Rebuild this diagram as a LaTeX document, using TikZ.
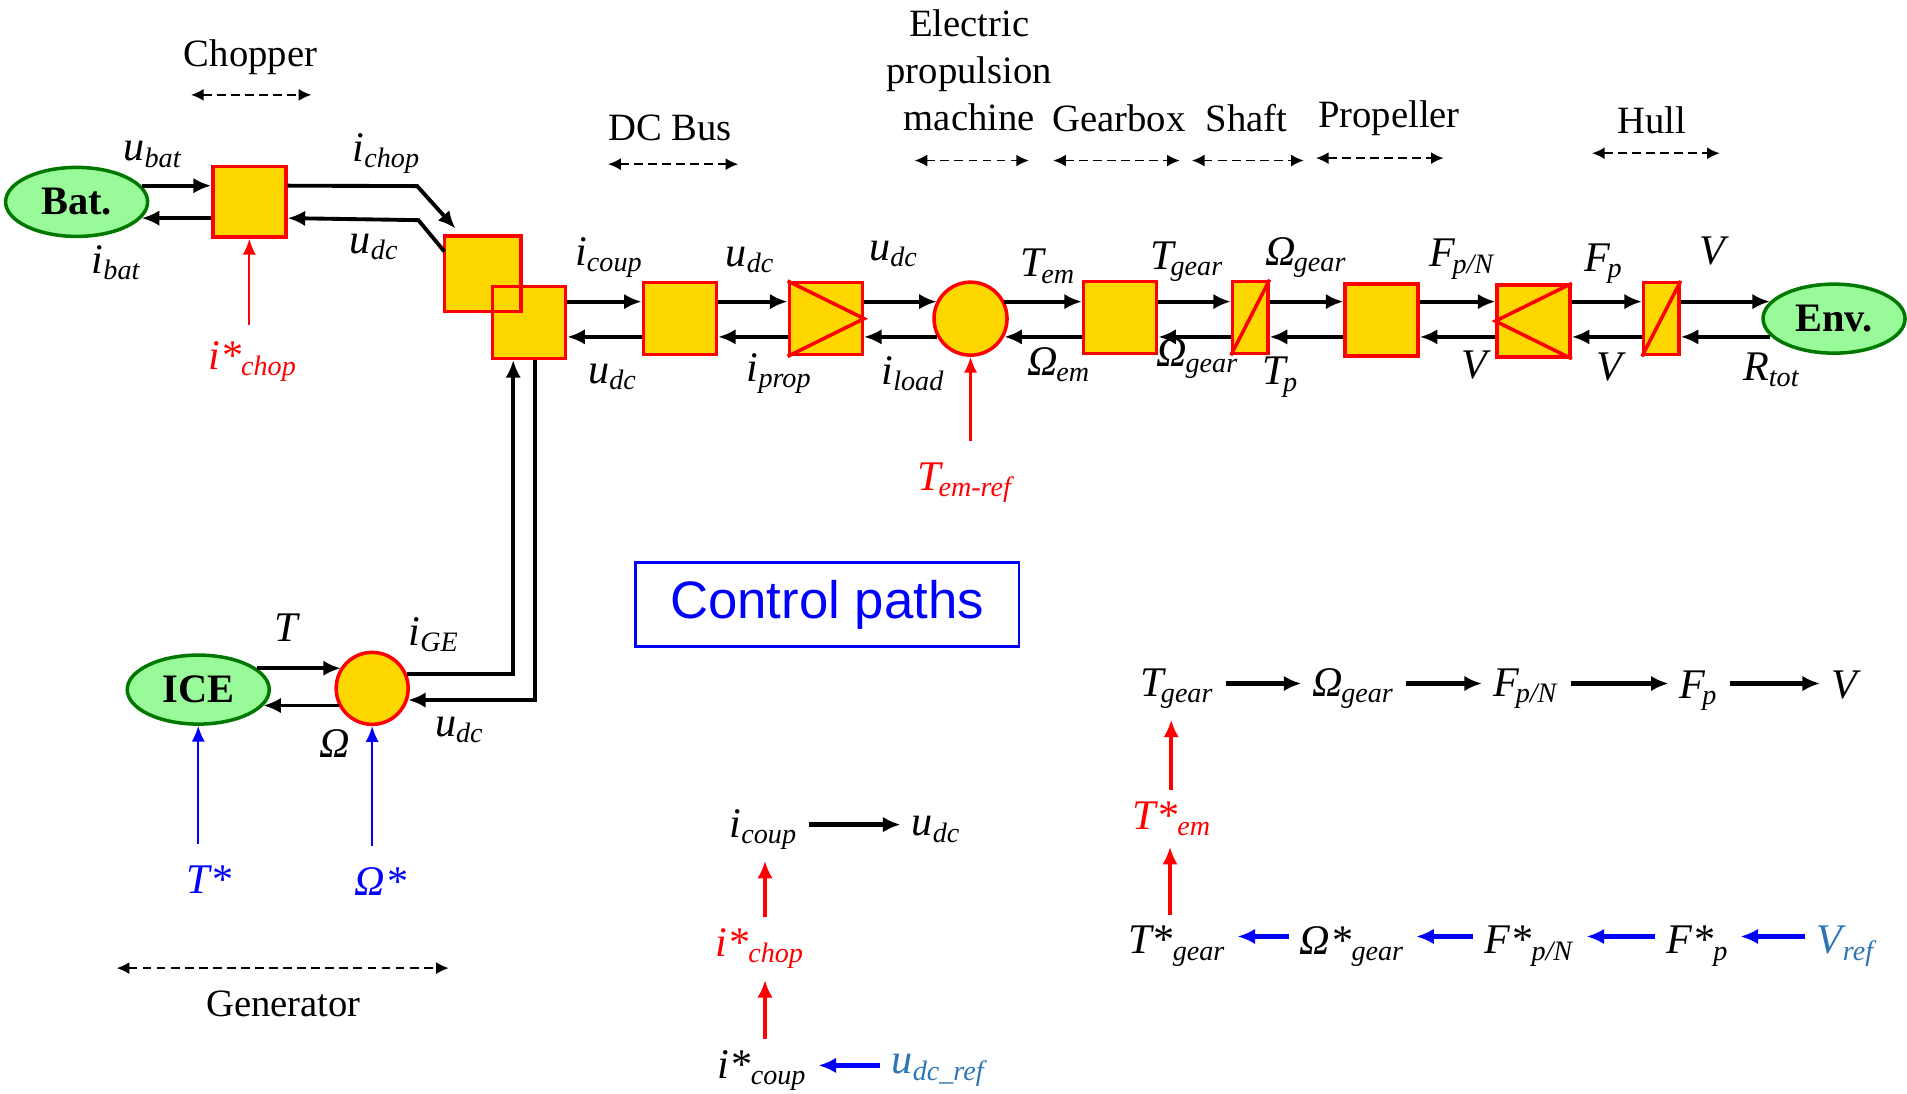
\documentclass[tikz,border=0pt]{standalone}
\usepackage{fontspec}
\setmainfont{Liberation Serif}
\newfontfamily\arialfont{Liberation Sans}
\usetikzlibrary{arrows.meta,shapes.geometric,calc}

\definecolor{boxfill}{RGB}{255,215,0}
\definecolor{ellfill}{RGB}{153,250,153}
\definecolor{elldraw}{RGB}{0,120,0}
\definecolor{refblue}{RGB}{0,0,255}
\definecolor{steel}{RGB}{46,117,182}

% italic symbol with italic subscript, optional kern before the subscript
\newcommand{\sv}[3][0pt]{\textit{#2}\kern#1\textsubscript{\textit{#3}}}

\tikzset{
  blk/.style={draw=red, fill=boxfill, line width=1pt, minimum width=0.73cm, minimum height=0.72cm, inner sep=0pt},
  slim/.style={blk, minimum width=0.353cm},
  rnd/.style={circle, draw=red, fill=boxfill, line width=1pt, minimum size=0.73cm, inner sep=0pt},
  src/.style={ellipse, draw=elldraw, fill=ellfill, line width=1pt, minimum width=1.42cm, minimum height=0.69cm, inner sep=0pt, font=\fontsize{11.5}{12}\selectfont\bfseries},
  sig/.style={-{Latex[length=5pt,width=4.4pt]}, line width=1.1pt},
  span/.style={{Latex[length=3.6pt,width=3.4pt]}-{Latex[length=3.6pt,width=3.4pt]}, dash pattern=on 2.5pt off 1.5pt, line width=0.5pt},
  lab/.style={font=\fontsize{12}{14}\selectfont, inner sep=1pt},
  hd/.style={font=\fontsize{11}{13.4}\selectfont, inner sep=1pt},
  refr/.style={-{Latex[length=4.5pt,width=3.8pt]}, red, line width=0.6pt},
  refb/.style={-{Latex[length=4.5pt,width=3.8pt]}, refblue, line width=0.6pt},
  cpath/.style={-{Latex[length=5pt,width=4.4pt]}, line width=1.2pt, shorten <=2pt, shorten >=2pt},
}

\begin{document}
\begin{tikzpicture}[x=0.012162cm, y=-0.012162cm]
\useasboundingbox (0,0) rectangle (1568,899);

% lanes of the power chain
\coordinate (up) at (0,248);
\coordinate (dn) at (0,277);

% sources
\node[src] (bat) at (63,166) {Bat.};
\node[src] (env) at (1508,262) {Env.};
\node[src] (ice) at (163,567) {ICE};

% conversion elements
\node[blk, minimum height=0.705cm] (chop) at (205,166) {};
\node[blk, draw=none] (cpl1) at (397,225) {};
\node[blk] (cpl2) at (435,265) {};
\draw[red, line width=1pt] (cpl1.south west) rectangle (cpl1.north east);
\node[blk] (bus) at (559,262) {};
\node[blk] (conv) at (679,262) {};
\draw[red, line width=1pt] (conv.north west) -- (conv.east) -- (conv.south west);
\node[rnd] (em) at (798,262) {};
\node[blk] (gear) at (921,261) {};
\node[slim] (shaft) at (1028,261) {};
\draw[red, line width=1pt] (shaft.south west) -- (shaft.north east);
\node[blk] (prop) at (1136,263) {};
\node[blk] (propn) at (1261,264) {};
\draw[red, line width=1pt] (propn.north east) -- (propn.west) -- (propn.south east);
\node[slim] (hull) at (1366,262) {};
\draw[red, line width=1pt] (hull.south west) -- (hull.north east);
\node[rnd, minimum size=0.72cm] (gen) at (306,566) {};

% battery and chopper
\draw[sig] (bat.14) -- (bat.14 -| chop.west);
\draw[sig] (chop.west |- bat.-14) -- (bat.-14);
\draw[sig] (chop.east |- bat.14) -- (343,153) -- ($(cpl1.north west)+(9,-6)$);
\draw[sig] ($(cpl1.north west)+(0,13)$) -- (344,181) -- (chop.east |- bat.-14);

% power chain
\foreach \a/\b in {cpl2/bus, bus/conv, gear/shaft, shaft/prop, prop/propn, propn/hull} {
  \draw[sig] (\a.east |- up) -- (\b.west |- up);
  \draw[sig] (\b.west |- dn) -- (\a.east |- dn);
}
\draw[sig] (conv.east |- up) -- (up -| em.152);
\draw[sig] (dn -| em.208) -- (conv.east |- dn);
\draw[sig] (up -| em.28) -- (gear.west |- up);
\draw[sig] (gear.west |- dn) -- (dn -| em.-28);
\draw[sig] (hull.east |- up) -- (up -| env.165);
\draw[sig] (dn -| env.195) -- (hull.east |- dn);

% generator
\draw[sig] (ice.20) -- (ice.20 -| gen.146);
\draw[sig] (gen.207) -- (gen.207 -| ice.-14);
\draw[sig] (gen.22) -| ($(cpl2.south)+(-13,0)$);
\draw[sig] ($(cpl2.south)+(5,0)$) |- (gen.-18);

% labels of the chain
\node[lab] (lubat) at (126,127) {\sv{u}{bat}};
\node[lab] (libat) at (96,216) {\sv{i}{bat}};
\node[lab] (lichop) at (318,126) {\sv{i}{chop}};
\node[lab] (ludc1) at (308,203) {\sv{u}{dc}};
\node[lab] (licoup) at (501,212) {\sv{i}{coup}};
\node[lab] (ludc2) at (504,310) {\sv{u}{dc}};
\node[lab] (ludc3) at (617,214) {\sv{u}{dc}};
\node[lab] (liprop) at (641,307) {\sv{i}{prop}};
\node[lab] (ludc4) at (735,209) {\sv{u}{dc}};
\node[lab] (liload) at (751,307) {\sv{i}{load}};
\node[lab] (ltem) at (862,219) {\sv[-1.5pt]{T}{em}};
\node[lab] (lwem) at (871,300) {\sv[-0.5pt]{Ω}{em}};
\node[lab] (ltgear) at (976,215) {\sv[-1.5pt]{T}{gear}};
\node[lab] (lwgear1) at (985,295) {\sv[-0.5pt]{Ω}{gear}};
\node[lab] (lwgear2) at (1074,212) {\sv[-0.5pt]{Ω}{gear}};
\node[lab] (ltp) at (1053,310) {\sv[-1.5pt]{T}{p}};
\node[lab] (lfpn) at (1203,213) {\sv[-1pt]{F}{p/N}};
\node[lab] (lv1) at (1214,300) {\textit{V}};
\node[lab] (lfp) at (1319,217) {\sv[-1pt]{F}{p}};
\node[lab] (lv2) at (1325,302) {\textit{V}};
\node[lab] (lv3) at (1410,206) {\textit{V}};
\node[lab] (lrtot) at (1457,304) {\sv{R}{tot}};
\node[lab] (lt) at (236,516) {\textit{T}};
\node[lab] (lw) at (275,611) {\textit{Ω}};
\node[lab] (lige) at (357,522) {\sv{i}{GE}};
\node[lab] (ludc5) at (378,600) {\sv{u}{dc}};

% references
\node[lab, red] (chopref) at (208,297) {\sv{i*}{chop}};
\draw[refr, shorten <=3.5pt] (chopref.north -| chop.south) -- (chop.south);
\node[lab, red] (temref) at (795,397) {\sv[-1.5pt]{T}{em-ref}};
\draw[refr, shorten <=5pt] (temref.north -| em.south) -- (em.south);
\node[lab, refblue] (tstar) at (172,723) {\textit{T*}};
\draw[refb, shorten <=5pt] (tstar.north -| ice.south) -- (ice.south);
\node[lab, refblue] (wstar) at (313,725) {\textit{Ω*}};
\draw[refb, shorten <=5pt] (wstar.north -| gen.south) -- (gen.south);

% headers
\node[hd] (hdchop) at (206,47) {Chopper};
\node[hd] (hdbus) at (551,105) {DC Bus};
\node[hd, align=center] (hdem) at (797,58) {Electric\\propulsion\\machine};
\node[hd] (hdgear) at (920,97) {Gearbox};
\node[hd] (hdshaft) at (1025,97) {Shaft};
\node[hd] (hdprop) at (1142,97) {Propeller};
\node[hd] (hdhull) at (1358,99) {Hull};
\node[hd] (hdgen) at (233,825) {Generator};
\foreach \xa/\xb/\yy in {157/256/78, 500/607/135, 752/846/132, 866/970/132, 980/1072/132, 1082/1187/130, 1309/1414/126, 96/369/796}
  \draw[span] (\xa,\yy) -- (\xb,\yy);

% control paths
\node[draw=refblue, line width=0.6pt, minimum width=3.83cm, minimum height=0.84cm, text=refblue, font=\arialfont\fontsize{15}{17}\selectfont] (ctl) at (680,497) {Control paths};

\node[lab] (cia) at (628,682) {\sv{i}{coup}};
\node[lab] (cib) at (770,682) {\sv{u}{dc}};
\node[lab, red] (cic) at (625,780) {\sv{i*}{chop}};
\node[lab] (cid) at (627,880) {\sv{i*}{coup}};
\node[lab, steel] (cie) at (773,880) {\sv{u}{dc\_ref}};
\draw[cpath] (cia.east |- 0,678) -- (cib.west |- 0,678);
\draw[cpath, red] (cic.north -| 629,0) -- (cia.south -| 629,0);
\draw[cpath, red] (cid.north -| 629,0) -- (cic.south -| 629,0);
\draw[cpath, refblue] (cie.west |- 0,876) -- (cid.east |- 0,876);

\node[lab] (t1) at (968,566) {\sv[-1.5pt]{T}{gear}};
\node[lab] (t2) at (1113,566) {\sv[-0.5pt]{Ω}{gear}};
\node[lab] (t3) at (1255,566) {\sv[-1pt]{F}{p/N}};
\node[lab] (t4) at (1397,568) {\sv[-1pt]{F}{p}};
\node[lab] (t5) at (1518,563) {\textit{V}};
\node[lab, red] (tem) at (964,673) {\sv{T*}{em}};
\node[lab] (b1) at (968,778) {\sv{T*}{gear}};
\node[lab] (b2) at (1112,778) {\sv{Ω*}{gear}};
\node[lab] (b3) at (1258,778) {\sv{F*}{p/N}};
\node[lab] (b4) at (1396,778) {\sv{F*}{p}};
\node[lab, steel] (b5) at (1519,778) {\sv[-1pt]{V}{ref}};
\foreach \a/\b in {t1/t2, t2/t3, t3/t4, t4/t5}
  \draw[cpath] (\a.east |- 0,562) -- (\b.west |- 0,562);
\foreach \a/\b in {b5/b4, b4/b3, b3/b2, b2/b1}
  \draw[cpath, refblue] (\a.west |- 0,770) -- (\b.east |- 0,770);
\draw[cpath, red] (tem.north -| 963,0) -- (t1.south -| 963,0);
\draw[cpath, red] (b1.north -| 962,0) -- (tem.south -| 962,0);
\end{tikzpicture}
\end{document}
